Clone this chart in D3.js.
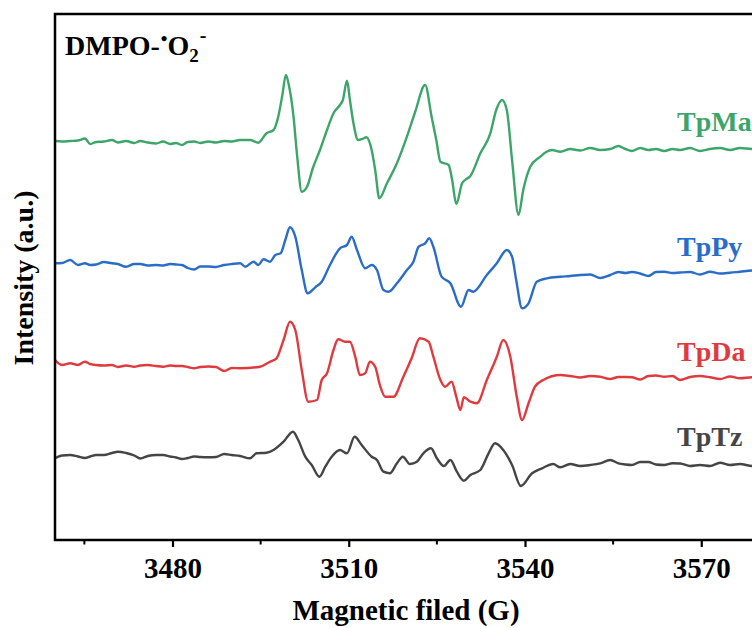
<!DOCTYPE html>
<html>
<head>
<meta charset="utf-8">
<script src="https://cdn.jsdelivr.net/npm/d3@7"></script>
<style>
  body { margin: 0; background: #fff; }
  svg { display: block; font-family: "Liberation Serif", "Times New Roman", serif; font-weight: bold; }
</style>
</head>
<body>
<svg id="epr" width="752" height="628"></svg>
<script>
// field positions shared by the flat parts of every trace (G)
var fieldLeft = [3460.0, 3461.2, 3462.6, 3463.9, 3465.1, 3466.0, 3467.0, 3468.3, 3469.7, 3470.7, 3472.1, 3473.5, 3474.5, 3475.8,
  3477.2, 3478.4, 3479.6, 3480.6, 3481.6, 3482.6, 3483.7, 3484.7, 3486.1, 3487.4, 3488.8, 3490.1, 3491.5];
var fieldRight = [3547.7, 3549.4, 3551.1, 3552.8, 3554.5, 3555.9, 3557.1, 3558.2, 3559.6, 3561.0, 3562.3, 3563.7, 3565.1,
  3566.4, 3568.1, 3569.8, 3571.5, 3573.2, 3574.9, 3576.6, 3578.7, 3580.0];

// TpMa
var tpMaLeft = [399, 398.5, 399, 399.5, 401.5, 396, 398, 398.5, 400, 397.5, 399, 397, 399, 397.5, 396.5, 398.5, 396, 397, 395,
  398, 398.5, 397, 398.5, 397.5, 399, 398.5, 400];
var tpMaSignal = [[3493.2,400],[3494.6,397.3],[3496.0,406.7],[3497.2,410],[3498.0,423.3],[3498.7,445],[3499.3,465],[3499.8,455],
  [3500.6,423.3],[3501.2,385],[3502.0,348.3],[3502.9,353.3],[3503.9,372],[3505.1,390],[3506.3,410],[3507.4,426.7],[3508.5,435],
  [3509.0,440],[3509.7,459.3],[3510.2,440],[3510.8,416.7],[3511.6,400],[3512.3,401],[3513.0,402.7],[3513.9,390],[3514.5,370],
  [3515.2,341.7],[3516.5,356.7],[3518.2,376.7],[3519.9,403.3],[3521.3,428],[3523.0,455],[3524.1,423.3],[3524.9,400],[3525.6,378.3],
  [3527.0,375],[3527.6,360],[3528.3,336],[3529.3,356.7],[3529.8,360],[3530.7,364],[3532.4,386.7],[3534.1,406.7],[3535.1,430],
  [3536.1,440],[3536.9,430],[3537.8,380],[3538.9,325],[3539.7,350],[3540.9,373.3],[3542.6,383.3],[3543.6,388],[3544.6,390],[3546.0,388.3]];
var tpMaRight = [391, 389.5, 392, 390, 391, 394, 391, 389, 392, 390, 391, 389, 391, 390, 392, 389, 391, 392, 390, 392, 391, 391];

// TpPy
var tpPyLeft = [276.7, 277, 280, 275, 276.7, 275, 275.5, 278, 276.7, 276, 273.3, 276, 276, 274.5, 275, 274.5, 276, 275.5, 275,
  272, 270.5, 273.5, 273.5, 273, 275, 276, 276.7];
var tpPySignal = [[3492.4,273.3],[3493.8,278.3],[3494.6,275],[3495.5,280.7],[3496.6,278.3],[3497.5,285],[3498.4,286.7],[3499.2,300],
  [3500.0,312.7],[3500.9,303.3],[3502.0,270],[3503.0,246.7],[3504.3,252.7],[3505.4,258.3],[3506.8,275],[3508.5,291.7],[3509.7,295],
  [3510.5,303.3],[3511.4,290],[3512.8,271.7],[3513.9,275],[3514.8,270],[3515.9,250],[3516.8,248.3],[3518.2,256.7],[3519.9,270],
  [3521.0,278.3],[3521.9,293.3],[3523.0,296.7],[3523.7,301.7],[3524.4,293.3],[3525.8,263.3],[3527.3,256.7],[3529.1,233.3],
  [3530.4,250],[3531.2,248.3],[3533.5,265],[3535.2,276.7],[3536.9,290],[3537.8,283.3],[3538.5,260],[3539.5,231.7],[3540.6,236.7],
  [3542.0,258.3],[3543.7,261.7],[3546.0,263.3]];
var tpPyRight = [264, 265, 265.5, 262, 265, 268, 267, 268, 266.5, 264, 268, 268.3, 267, 267.5, 268, 265.5, 268.3, 266.5, 267.3,
  268.3, 269.5, 269];

// TpDa
var tpDaLeft = [180, 175, 176.7, 175, 178.3, 176, 175, 174.5, 175, 173, 174.5, 173.3, 174.5, 175, 174, 173.3, 174.5, 174, 174,
  173, 171.7, 173, 173.5, 173, 169, 172, 171.7];
var tpDaSignal = [[3494.9,173.3],[3496.6,178.3],[3497.7,181.7],[3498.9,200],[3500.0,218.3],[3500.9,210],[3502.0,170],[3503.1,138.3],
  [3504.6,140],[3505.4,160],[3506.3,166.7],[3507.4,190],[3508.2,200.7],[3509.4,198.3],[3510.2,198.3],[3511.1,183.3],[3511.9,165],
  [3512.8,166.7],[3513.6,178.3],[3514.5,173.3],[3515.3,155],[3516.2,143.3],[3517.6,143.3],[3519.3,163.3],[3520.7,181.7],
  [3522.1,201.7],[3523.6,198.3],[3524.4,183.3],[3525.6,160],[3526.4,153.3],[3527.5,158.3],[3528.3,143.3],[3529.0,130],
  [3529.6,142.7],[3530.7,138.3],[3531.8,136.7],[3533.5,160],[3535.2,183.3],[3536.3,200],[3537.5,183.3],[3538.6,143.3],
  [3539.5,120],[3540.6,136.7],[3541.7,153.3],[3543.1,160],[3546.0,165]];
var tpDaRight = [164, 162.5, 164, 163.3, 161, 163, 163, 162.7, 160.5, 164, 164.5, 163.3, 164, 160, 163, 164, 162.7, 161, 163.5,
  161.7, 162.7, 162];

// TpTz
var tpTzLeft = [81.7, 84.5, 85, 83.5, 82, 83.5, 85, 85, 87, 88.3, 87, 84.5, 81.5, 84, 85, 85, 83.5, 82.5, 81, 82, 83.5, 83,
  82.7, 83, 86, 85, 84];
var tpTzSignal = [[3493.2,81.7],[3494.3,86.7],[3496.0,87.3],[3497.2,90],[3498.9,98.3],[3500.5,108.3],[3501.4,100],[3502.6,83.3],
  [3503.7,75],[3505.0,63.3],[3506.0,73.3],[3507.1,83.3],[3508.5,90],[3509.7,86.7],[3511.0,103.3],[3512.2,95],[3513.9,83.3],
  [3514.8,80],[3515.9,68.3],[3517.0,66.7],[3518.2,76.7],[3519.2,83.3],[3520.4,76],[3521.6,78.3],[3522.7,86.7],[3524.0,91.7],
  [3525.0,81.7],[3526.2,74],[3527.3,80],[3528.4,68.3],[3529.6,59.3],[3530.7,65],[3532.4,70],[3533.8,86.7],[3534.9,96.7],
  [3536.3,90],[3537.8,75],[3539.3,54],[3541.2,66.7],[3542.9,71.7],[3544.8,76],[3546.0,72.7]];
var tpTzRight = [76, 74, 75, 76.7, 80, 76.7, 75.5, 75, 78, 78, 75.5, 75, 76.7, 76.5, 74, 75, 74, 77.3, 75, 76, 74, 75];

var sampleNames = ["TpMa", "TpPy", "TpDa", "TpTz"];
var sampleColors = ["#3da56a", "#2a6dc6", "#df3b3f", "#454545"];
var labelLevels = [409, 284, 179, 94];   // where the names sit, in intensity units

var majorTicks = [3480, 3510, 3540, 3570];
var minorTicks = [3465, 3495, 3525, 3555];

function joinTrace(baseL, signal, baseR) {
  var pts = fieldLeft.map(function (f, i) { return [f, baseL[i]]; });
  pts = pts.concat(signal);
  return pts.concat(fieldRight.map(function (f, i) { return [f, baseR[i]]; }));
}

var traces = [
  joinTrace(tpMaLeft, tpMaSignal, tpMaRight),
  joinTrace(tpPyLeft, tpPySignal, tpPyRight),
  joinTrace(tpDaLeft, tpDaSignal, tpDaRight),
  joinTrace(tpTzLeft, tpTzSignal, tpTzRight)
];

var svg = d3.select("#epr");
var plotL = 55, plotR = 760, plotT = 14, plotB = 540;

var x = d3.scaleLinear().domain([3460, 3580]).range([plotL, plotR]);
var y = d3.scaleLinear().domain([0, 526]).range([plotB, plotT]);

svg.append("clipPath").attr("id", "plotClip")
  .append("rect").attr("x", plotL).attr("y", plotT).attr("width", plotR - plotL).attr("height", plotB - plotT);

var line = d3.line()
  .x(function (d) { return x(d[0]); })
  .y(function (d) { return y(d[1]); })
  .curve(d3.curveMonotoneX);

svg.append("g").attr("clip-path", "url(#plotClip)")
  .selectAll("path.trace")
  .data(traces)
  .enter()
  .append("path")
  .attr("class", "trace")
  .attr("fill", "none")
  .attr("stroke", function (d, i) { return sampleColors[i]; })
  .attr("stroke-width", 2.4)
  .attr("stroke-linejoin", "round")
  .attr("d", line);

// frame
svg.append("rect")
  .attr("x", plotL).attr("y", plotT)
  .attr("width", plotR - plotL).attr("height", plotB - plotT)
  .attr("fill", "none").attr("stroke", "#000").attr("stroke-width", 2.5);

// x axis
var xAxis = svg.append("g")
  .attr("transform", "translate(0," + plotB + ")")
  .call(d3.axisBottom(x).tickValues(majorTicks).tickFormat(d3.format("d"))
    .tickSize(7).tickSizeOuter(0).tickPadding(10));
xAxis.select(".domain").remove();
xAxis.selectAll("line").attr("stroke-width", 2.2);
xAxis.selectAll("text")
  .attr("font-family", "Liberation Serif, serif")
  .attr("font-weight", "bold")
  .attr("font-size", 29)
  .attr("fill", "#000");

svg.append("g")
  .selectAll("line.minor")
  .data(minorTicks)
  .enter()
  .append("line")
  .attr("class", "minor")
  .attr("x1", function (d) { return x(d); })
  .attr("x2", function (d) { return x(d); })
  .attr("y1", plotB)
  .attr("y2", plotB + 4.5)
  .attr("stroke", "#000")
  .attr("stroke-width", 2);

// sample names
svg.append("g")
  .selectAll("text.name")
  .data(sampleNames)
  .enter()
  .append("text")
  .attr("class", "name")
  .attr("x", 677)
  .attr("y", function (d, i) { return y(labelLevels[i]); })
  .attr("font-size", 28)
  .attr("fill", function (d, i) { return sampleColors[i]; })
  .text(function (d) { return d; });

// panel title DMPO-•O2-
var title = svg.append("text").attr("x", 65).attr("y", 55).attr("font-size", 28).attr("fill", "#000");
title.append("tspan").text("DMPO-");
title.append("tspan").attr("font-size", 19).attr("dy", -10).attr("dx", 1).text("•");
title.append("tspan").attr("dy", 10).text("O");
title.append("tspan").attr("font-size", 19).attr("dy", 7).text("2");
title.append("tspan").attr("font-size", 20).attr("dy", -20).attr("dx", 1).text("-");

// axis titles
svg.append("text")
  .attr("x", 406).attr("y", 620)
  .attr("text-anchor", "middle")
  .attr("font-size", 29)
  .text("Magnetic filed (G)");

svg.append("text")
  .attr("transform", "translate(33,278) rotate(-90)")
  .attr("text-anchor", "middle")
  .attr("font-size", 28)
  .text("Intensity (a.u.)");
</script>
</body>
</html>
